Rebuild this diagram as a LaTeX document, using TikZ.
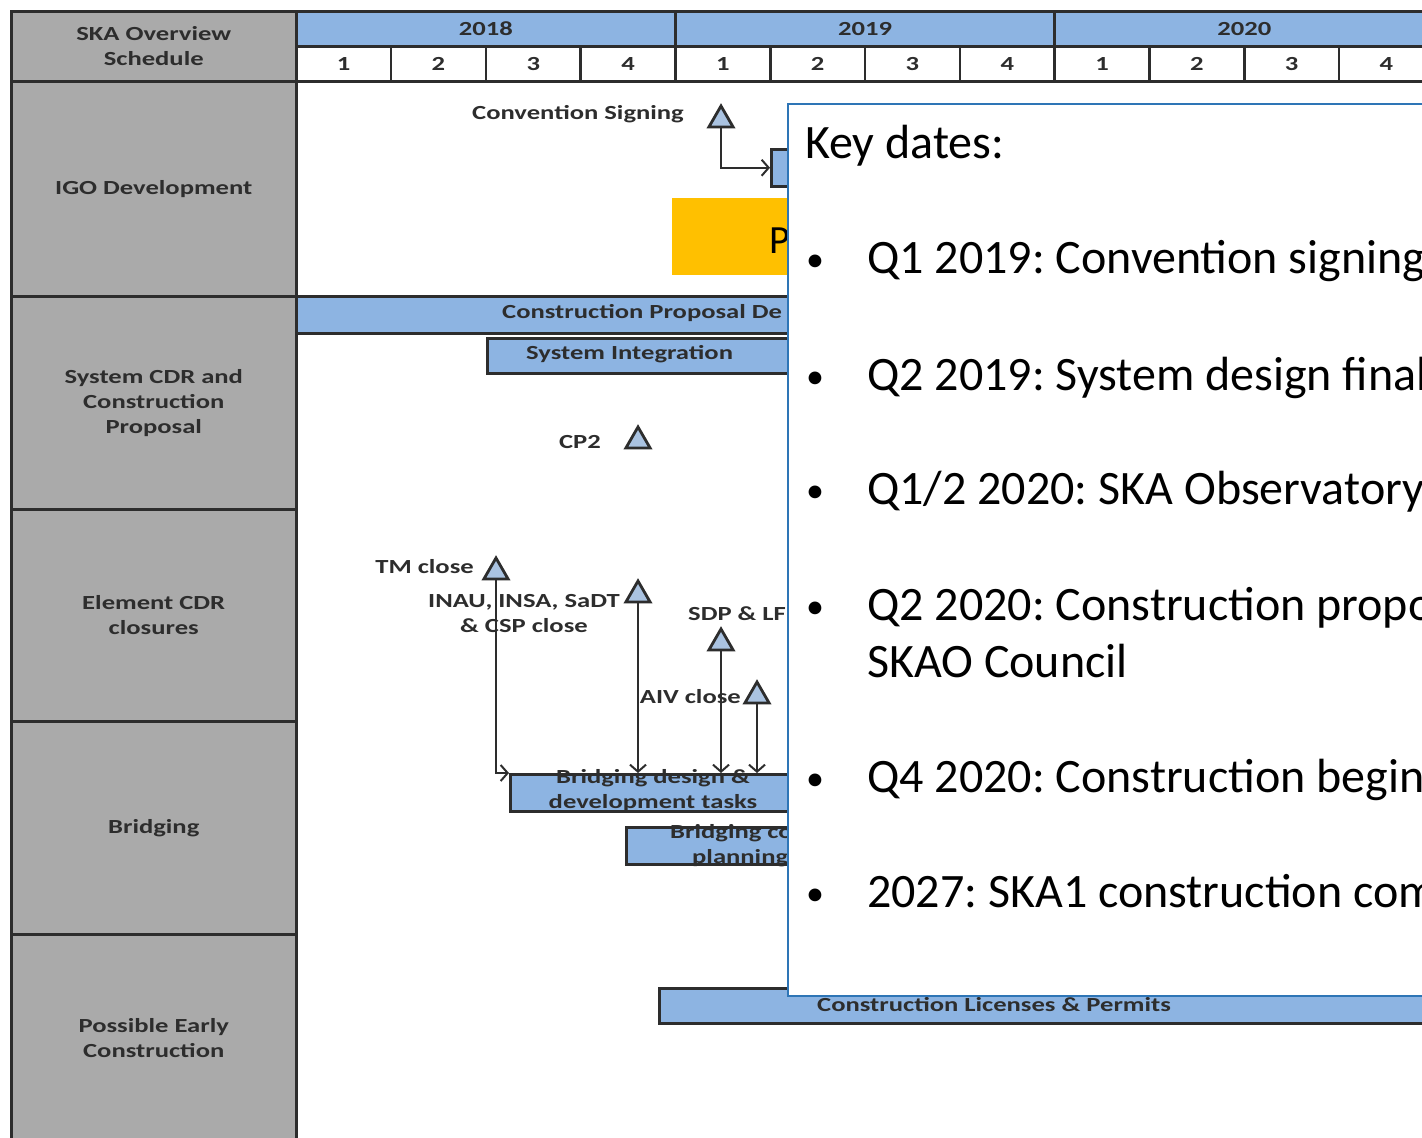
\documentclass[tikz,border=0pt]{standalone}
\usepackage{fontspec}
\setmainfont{Carlito}
\newfontfamily\ganttfont[FakeStretch=1.33]{Carlito}
\usepackage{tikz}
\usetikzlibrary{shapes.geometric, arrows, arrows.meta, positioning, calc}

\definecolor{rowgray}{RGB}{170,170,170}
\definecolor{barblue}{RGB}{141,180,226}
\definecolor{msblue}{RGB}{170,195,225}
\definecolor{keyblue}{RGB}{46,117,182}
\definecolor{signyellow}{RGB}{255,192,0}
\definecolor{inkgray}{RGB}{45,45,45}

\newcommand{\kdbullet}{\makebox[61pt][l]{\raisebox{2pt}{\scalebox{0.75}{•}}}}

\tikzset{
  gtext/.style={font=\ganttfont\bfseries\fontsize{20}{25}\selectfont, text=inkgray, inner sep=0pt},
  rowcell/.style={gtext, draw=inkgray, line width=2.5pt, fill=rowgray, anchor=north west, align=center, minimum width=285pt},
  yearcell/.style={gtext, draw=inkgray, line width=2.5pt, fill=barblue, anchor=north west, minimum width=379.2pt, minimum height=35pt},
  qcell/.style={gtext, draw=inkgray, line width=2.5pt, fill=white, anchor=north west, minimum width=94.8pt, minimum height=35pt},
  taskbar/.style={draw=inkgray, line width=2.5pt, fill=barblue, anchor=north west, inner sep=0pt},
  milestone/.style={regular polygon, regular polygon sides=3, draw=inkgray, line width=2.8pt, fill=msblue, minimum size=28pt, inner sep=0pt},
  link/.style={draw=inkgray, line width=2pt, -{Straight Barb[length=7pt, width=16pt]}},
  keytext/.style={font=\fontsize{48}{58}\selectfont, anchor=base west, inner sep=0pt}
}

\begin{document}
\frenchspacing
\begin{tikzpicture}[x=1pt, y=-1pt]
    \useasboundingbox (0,0) rectangle (1422,1138);
    \fill[white] (0,0) rectangle (1422,1138);

    % header: years and quarters
    \node[rowcell, minimum height=70pt] (hdr) at (10,10) {SKA Overview\\Schedule};
    \node[yearcell] (y2018) at (295,10) {2018};
    \node[yearcell] (y2019) at (674.2,10) {2019};
    \node[yearcell] (y2020) at (1053.4,10) {2020};
    \foreach \q [count=\i from 0] in {1,2,3,4,1,2,3,4,1,2,3,4}
        \node[qcell] (q\i) at (295+94.8*\i,45) {\q};

    % row labels
    \node[rowcell, minimum height=215pt] (igo) at (10,80) {IGO Development};
    \node[rowcell, minimum height=213pt] (cdr) at (10,295) {System CDR and\\Construction\\Proposal};
    \node[rowcell, minimum height=212pt] (elem) at (10,508) {Element CDR\\closures};
    \node[rowcell, minimum height=213pt] (bridge) at (10,720) {Bridging};
    \node[rowcell, minimum height=207pt] (early) at (10,933) {Possible Early\\Construction};

    % IGO development
    \node[milestone] (convms) at (721,120) {};
    \node[gtext, anchor=east] (convlbl) at (684,114) {Convention Signing};
    \node[taskbar, minimum width=60pt, minimum height=37pt] (signbox) at (770,148) {};
    \draw[link] (convms.south) |- (signbox.west);
    \node[fill=signyellow, anchor=north west, minimum width=200pt, minimum height=77pt, inner sep=0pt] (propbox) at (672,198) {};
    \node[keytext, font=\fontsize{40}{48}\selectfont] (proplbl) at (769,253) {P};

    % system CDR and construction proposal
    \node[taskbar, minimum width=1145pt, minimum height=37pt] (cpbar) at (295,295) {};
    \node[gtext, anchor=west] (cplbl) at (502,313.5) {Construction Proposal De};
    \node[taskbar, minimum width=954pt, minimum height=35pt] (sibar) at (486,337) {};
    \node[gtext, anchor=west] (silbl) at (526,354.5) {System Integration};
    \node[milestone] (cp2ms) at (638,441) {};
    \node[gtext, anchor=east] (cp2lbl) at (601,442) {CP2};

    % element CDR closures
    \node[milestone] (tmms) at (496,572) {};
    \node[gtext, anchor=east] (tmlbl) at (474,567) {TM close};
    \node[milestone] (inaums) at (638,595) {};
    \node[gtext, align=center] (inaulbl) at (524,614) {INAU, INSA, SaDT\\\& CSP close};
    \node[milestone] (sdpms) at (721,643) {};
    \node[gtext, anchor=west] (sdplbl) at (688,614) {SDP \& LF};
    \node[milestone] (aivms) at (757,696) {};
    \node[gtext, anchor=east] (aivlbl) at (741,697) {AIV close};

    % bridging
    \node[taskbar, minimum width=288pt, minimum height=37pt] (bdbar) at (509,773) {};
    \node[gtext, align=center] (bdlbl) at (653,791) {Bridging design \&\\development tasks};
    \node[taskbar, minimum width=815pt, minimum height=37pt] (bcbar) at (625,826) {};
    \node[gtext, align=left, anchor=west] (bclbl) at (670,845.5) {Bridging co\\\hspace*{22pt}planning};
    \draw[link] (tmms.south) |- (bdbar.north west);
    \draw[link] (inaums.south) -- (inaums.south |- bdbar.north);
    \draw[link] (sdpms.south) -- (sdpms.south |- bdbar.north);
    \draw[link] (aivms.south) -- (aivms.south |- bdbar.north);

    % possible early construction
    \node[taskbar, minimum width=782pt, minimum height=35pt] (clbar) at (658,987) {};
    \node[gtext, anchor=west] (cllbl) at (817,1005) {Construction Licenses \& Permits};

    % key dates overlay
    \node[draw=keyblue, line width=2pt, fill=white, anchor=north west, minimum width=700pt, minimum height=892pt] (keybox) at (787,103) {};
    \node[keytext] (kdtitle) at (805,158) {Key dates:};
    \node[keytext] (kdone) at (806,273) {\kdbullet Q1 2019: Convention signing};
    \node[keytext] (kdtwo) at (806,390) {\kdbullet Q2 2019: System design final};
    \node[keytext] (kdthree) at (806,504) {\kdbullet Q1/2 2020: SKA Observatory};
    \node[keytext] (kdfour) at (806,620) {\kdbullet Q2 2020: Construction propo};
    \node[keytext] (kdfourb) at (867,677) {SKAO Council};
    \node[keytext] (kdfive) at (806,792) {\kdbullet Q4 2020: Construction begin};
    \node[keytext] (kdsix) at (806,907) {\kdbullet 2027: SKA1 construction com};
\end{tikzpicture}
\end{document}
